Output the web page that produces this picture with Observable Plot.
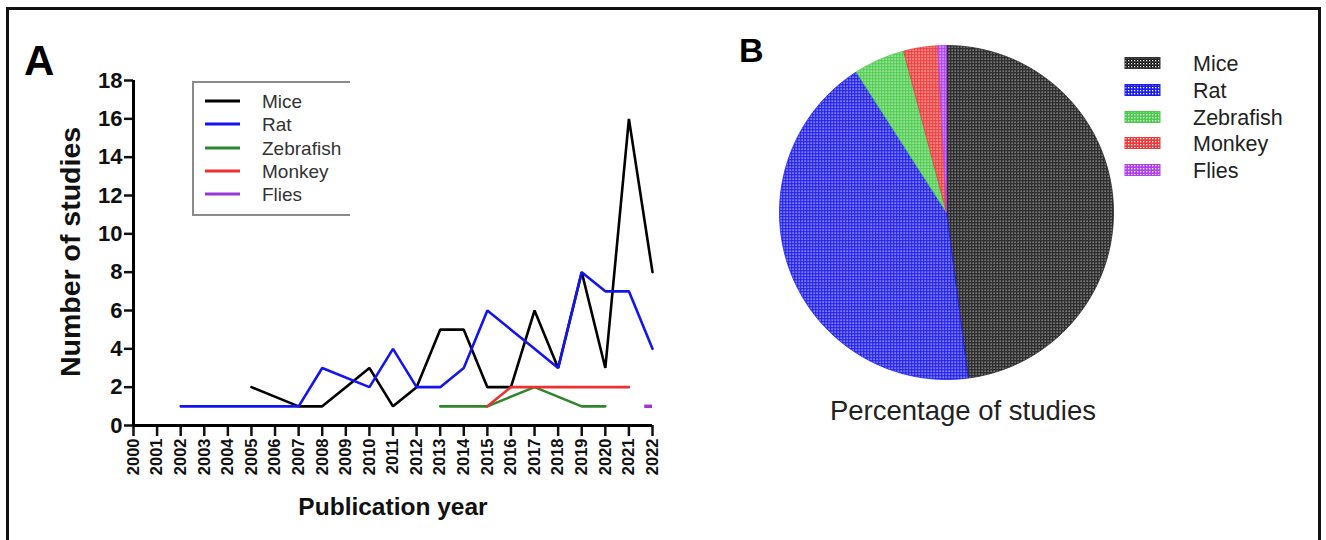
<!DOCTYPE html>
<html><head><meta charset="utf-8">
<script src="https://cdn.jsdelivr.net/npm/d3@7"></script>
<script src="https://cdn.jsdelivr.net/npm/@observablehq/plot@0.6"></script>
<style>
body{margin:0;background:#fff;font-family:"Liberation Sans",Arial,sans-serif}
#root{position:relative;width:1326px;height:540px;overflow:hidden;background:#fff}
#root > *{position:absolute}
</style></head><body><div id="root"></div>
<script>
// ---------- data ----------
const years = [2000,2001,2002,2003,2004,2005,2006,2007,2008,2009,2010,2011,2012,2013,2014,2015,2016,2017,2018,2019,2020,2021,2022];
const yTicks = [0,2,4,6,8,10,12,14,16,18];
const species = ["Mice","Rat","Zebrafish","Monkey","Flies"];
const mice      = [null,null,null,null,null,2,null,1,1,2,3,1,2,5,5,2,2,6,3,8,3,16,8];
const rat       = [null,null,1,1,1,1,1,1,3,null,2,4,2,2,3,6,5,4,3,8,7,7,4];
const zebrafish = [null,null,null,null,null,null,null,null,null,null,null,null,null,1,1,1,null,2,null,1,1,null,null];
const monkey    = [null,null,null,null,null,null,null,null,null,null,null,null,null,null,null,1,2,2,2,2,2,2,null];
const flies     = [null,null,null,null,null,null,null,null,null,null,null,null,null,null,null,null,null,null,null,null,null,null,1];
const pieValues = [58,52,6,4,1];   // studies per species (share of total)
const lineColors = ["#000000","#1414f0","#2f862f","#ee3030","#9a35d8"];
const patColors  = ["#000000","#1c1cf0","#4ccc4c","#f03a3a","#b040f0"];

// ---------- build tables ----------
const seriesValues = [mice, rat, zebrafish, monkey, flies];
const rows = [];
species.forEach((s, i) => seriesValues[i].forEach((v, j) => { if (v != null) rows.push({species: s, year: years[j], n: v}); }));

const root = document.getElementById("root");

// frame
const frame = document.createElement("div");
frame.style.cssText = "left:6px;top:7px;width:1309px;height:600px;border:3px solid #111;";
root.appendChild(frame);

// patterns
const defs = d3.select(root).append("svg").attr("width", 0).attr("height", 0).style("left", "0px").style("top", "0px").append("defs");
patColors.forEach((c, i) => {
  const p = defs.append("pattern").attr("id", "pat" + i).attr("patternUnits", "userSpaceOnUse").attr("width", 3).attr("height", 3);
  p.append("rect").attr("width", 3).attr("height", 3).attr("fill", c);
  p.append("rect").attr("x", 0).attr("y", 0).attr("width", 1.3).attr("height", 1.3).attr("fill", "#fff");
  if (i === 0) p.append("rect").attr("x", 1.5).attr("y", 1.5).attr("width", 1.0).attr("height", 1.0).attr("fill", "#bbb");
});

// ---------- chart A ----------
const colorScale = {domain: species, range: lineColors};
const lineRows = rows.filter(d => d.species !== "Flies");
const singleRows = rows.filter(d => d.species === "Flies");
const chartA = Plot.plot({
  width: 700, height: 520,
  marginLeft: 133, marginRight: 48, marginTop: 80, marginBottom: 95,
  style: {fontFamily: "'Liberation Sans', Arial, sans-serif", color: "#111", background: "transparent", overflow: "visible"},
  x: {domain: [2000, 2022]},
  y: {domain: [0, 18]},
  color: colorScale,
  marks: [
    Plot.axisY({ticks: yTicks, tickSize: 9, tickPadding: 2, fontSize: 22, fontWeight: "bold", strokeWidth: 2.5, label: null}),
    Plot.axisX({ticks: years, tickSize: 11, tickPadding: 2, tickRotate: -90, fontSize: 16.5, fontWeight: "bold", strokeWidth: 2.5, tickFormat: d => String(d), label: null}),
    Plot.line(lineRows, {x: "year", y: "n", z: "species", stroke: "species", strokeWidth: 2.6, strokeLinejoin: "miter"}),
    Plot.ruleY(singleRows, {y: "n", x1: d => d.year - 0.33, x2: "year", stroke: "species", strokeWidth: 3.5}),
    Plot.ruleY([0], {strokeWidth: 3, stroke: "#000"}),
    Plot.ruleX([2000], {strokeWidth: 3, stroke: "#000"})
  ]
});
d3.select(chartA).selectAll("text").each(function () {
  const t = this.textContent.trim();
  const isYear = /^\d{4}$/.test(t);
  this.style.fontSize = isYear ? "16.5px" : "22px";
  this.style.fontWeight = "bold";
});
chartA.style.left = "0px"; chartA.style.top = "0px";
root.appendChild(chartA);

// ---------- chart B (pie) ----------
const arcs = d3.pie().sort(null)(pieValues);
const slicePts = arcs.map((a, i) => {
  const pts = [{x: 0, y: 0}];
  const steps = Math.max(4, Math.ceil((a.endAngle - a.startAngle) / 0.01));
  for (let k = 0; k <= steps; k++) {
    const t = a.startAngle + (a.endAngle - a.startAngle) * k / steps;
    pts.push({x: Math.sin(t), y: Math.cos(t)});
  }
  pts.push({x: 0, y: 0});
  return pts;
});
const chartB = Plot.plot({
  width: 338, height: 338, margin: 2,
  style: {background: "transparent", overflow: "visible"},
  x: {domain: [-1, 1], axis: null},
  y: {domain: [-1, 1], axis: null},
  marks: slicePts.map((pts, i) => Plot.line(pts, {x: "x", y: "y", fill: `url(#pat${i})`, stroke: i === 0 ? "#222" : patColors[i], strokeWidth: 0.8}))
});
chartB.style.left = "777px"; chartB.style.top = "43px";
root.appendChild(chartB);

// ---------- texts & legends ----------
const ov = d3.select(root).append("svg").attr("width", 1326).attr("height", 540).style("left", "0px").style("top", "0px")
  .style("font-family", "'Liberation Sans', Arial, sans-serif").style("pointer-events", "none");
ov.append("text").attr("x", 24).attr("y", 75).attr("font-size", 42).attr("font-weight", "bold").attr("fill", "#000").text("A");
ov.append("text").attr("x", 739).attr("y", 62).attr("font-size", 34).attr("font-weight", "bold").attr("fill", "#000").text("B");
ov.append("text").attr("transform", "translate(80,252) rotate(-90)").attr("text-anchor", "middle").attr("font-size", 28.5).attr("font-weight", "bold").attr("fill", "#111").text("Number of studies");
ov.append("text").attr("x", 393).attr("y", 515).attr("text-anchor", "middle").attr("font-size", 24.5).attr("font-weight", "bold").attr("fill", "#111").text("Publication year");
ov.append("text").attr("x", 963).attr("y", 420).attr("text-anchor", "middle").attr("font-size", 27.5).attr("fill", "#222").text("Percentage of studies");

// legend A
const lgA = ov.append("g");
lgA.append("path").attr("d", "M350,82H193V215H350").attr("fill", "none").attr("stroke", "#8a8a8a").attr("stroke-width", 2);
const rowYA = [101, 124, 148, 171, 194];
species.forEach((s, i) => {
  lgA.append("line").attr("x1", 205).attr("x2", 240).attr("y1", rowYA[i]).attr("y2", rowYA[i]).attr("stroke", lineColors[i]).attr("stroke-width", 3);
  lgA.append("text").attr("x", 262).attr("y", rowYA[i] + 6.5).attr("font-size", 19).attr("fill", "#333").text(s);
});

// legend B
const rowYB = [63, 90, 117, 143, 170];
species.forEach((s, i) => {
  ov.append("rect").attr("x", 1125).attr("y", rowYB[i] - 5.5).attr("width", 35).attr("height", 11).attr("fill", `url(#pat${i})`).attr("stroke", i === 0 ? "#333" : patColors[i]).attr("stroke-width", 1);
  ov.append("text").attr("x", 1193).attr("y", rowYB[i] + 7.5).attr("font-size", 21.5).attr("fill", "#222").text(s);
});
</script></body></html>
